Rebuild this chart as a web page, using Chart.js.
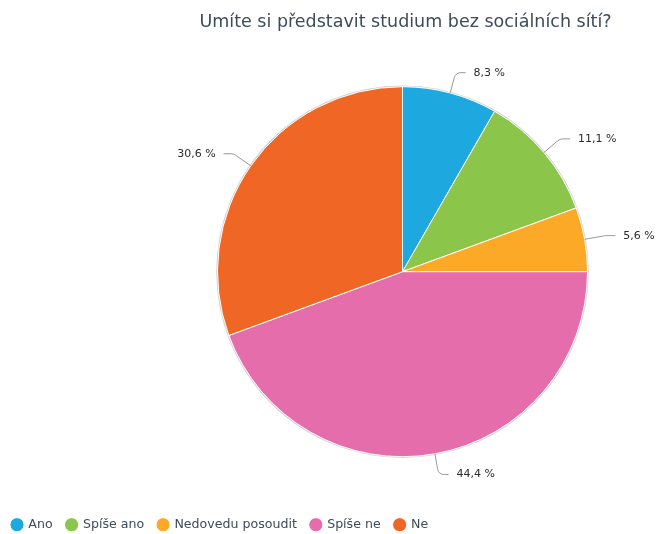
<!DOCTYPE html>
<html>
<head>
<meta charset="utf-8">
<script src="https://cdn.jsdelivr.net/npm/chart.js@4/dist/chart.umd.min.js"></script>
<style>
    html, body { margin: 0; padding: 0; background: #fff; }
    #wrap { width: 656px; height: 534px; }
</style>
</head>
<body>
<div id="wrap"><canvas id="chart"></canvas></div>
<script>
// Survey answers, share of respondents in %
const answers = ['Ano', 'Spíše ano', 'Nedovedu posoudit', 'Spíše ne', 'Ne'];
const shares = [8.3, 11.1, 5.6, 44.4, 30.6];
const sliceColors = ['#1ea8e0', '#8bc54a', '#fba927', '#e66dab', '#f06624'];
const titleText = 'Umíte si představit studium bez sociálních sítí?';

const textColor = '#3e4b5b';
const pieCenterX = 402.5;

// move the plot area so the pie sits right of the canvas centre
const shiftArea = {
    id: 'shiftArea',
    afterLayout(chart) {
        const a = chart.chartArea;
        const dx = pieCenterX - (a.left + a.right) / 2;
        a.left += dx;
        a.right += dx;
    }
};

// faint grey rim around the whole pie
const pieRim = {
    id: 'pieRim',
    beforeDatasetsDraw(chart) {
        const arc = chart.getDatasetMeta(0).data[0];
        if (!arc) return;
        const ctx = chart.ctx;
        ctx.save();
        ctx.beginPath();
        ctx.arc(arc.x, arc.y, arc.outerRadius + 0.5, 0, Math.PI * 2);
        ctx.strokeStyle = 'rgba(0,0,0,0.18)';
        ctx.lineWidth = 1.5;
        ctx.stroke();
        ctx.restore();
    }
};

// percentage labels outside the slices, with bent leader lines
const outsideLabels = {
    id: 'outsideLabels',
    afterDatasetsDraw(chart) {
        const ctx = chart.ctx;
        const meta = chart.getDatasetMeta(0);
        const values = chart.data.datasets[0].data;
        ctx.save();
        ctx.font = '11px "DejaVu Sans"';
        ctx.textBaseline = 'middle';
        meta.data.forEach((arc, i) => {
            const mid = (arc.startAngle + arc.endAngle) / 2;
            const cos = Math.cos(mid), sin = Math.sin(mid);
            const r = arc.outerRadius;
            const side = cos >= 0 ? 1 : -1;
            const x0 = arc.x + cos * r, y0 = arc.y + sin * r;
            const x1 = arc.x + cos * (r + 21), y1 = arc.y + sin * (r + 21);
            const x2 = x1 + side * 10;

            ctx.beginPath();
            ctx.moveTo(x0, y0);
            ctx.arcTo(x1, y1, x2, y1, 7);
            ctx.lineTo(x2, y1);
            ctx.strokeStyle = '#999';
            ctx.lineWidth = 1;
            ctx.stroke();

            ctx.fillStyle = '#2b2b2b';
            ctx.textAlign = side > 0 ? 'left' : 'right';
            const label = values[i].toFixed(1).replace('.', ',') + ' %';
            ctx.fillText(label, x2 + side * 8, y1);
        });
        ctx.restore();
    }
};

new Chart(document.getElementById('chart'), {
    type: 'pie',
    data: {
        labels: answers,
        datasets: [{
            data: shares,
            backgroundColor: sliceColors,
            borderColor: '#ffffff',
            borderWidth: 1,
            radius: 185
        }]
    },
    options: {
        responsive: true,
        maintainAspectRatio: false,
        animation: false,
        // title box is widened past the right edge so it centres over the pie
        layout: {
            padding: { left: -2, right: -157, top: 0, bottom: -7 }
        },
        plugins: {
            title: {
                display: true,
                text: titleText,
                color: textColor,
                font: { family: 'DejaVu Sans', size: 17.5, weight: 'normal' },
                padding: { top: 12, bottom: 6 }
            },
            legend: {
                position: 'bottom',
                align: 'start',
                labels: {
                    usePointStyle: true,
                    pointStyle: 'circle',
                    boxWidth: 10,
                    boxHeight: 10,
                    padding: 14,
                    color: textColor,
                    font: { family: 'DejaVu Sans', size: 12.6 }
                }
            },
            tooltip: { enabled: false }
        }
    },
    plugins: [shiftArea, pieRim, outsideLabels]
});
</script>
</body>
</html>
